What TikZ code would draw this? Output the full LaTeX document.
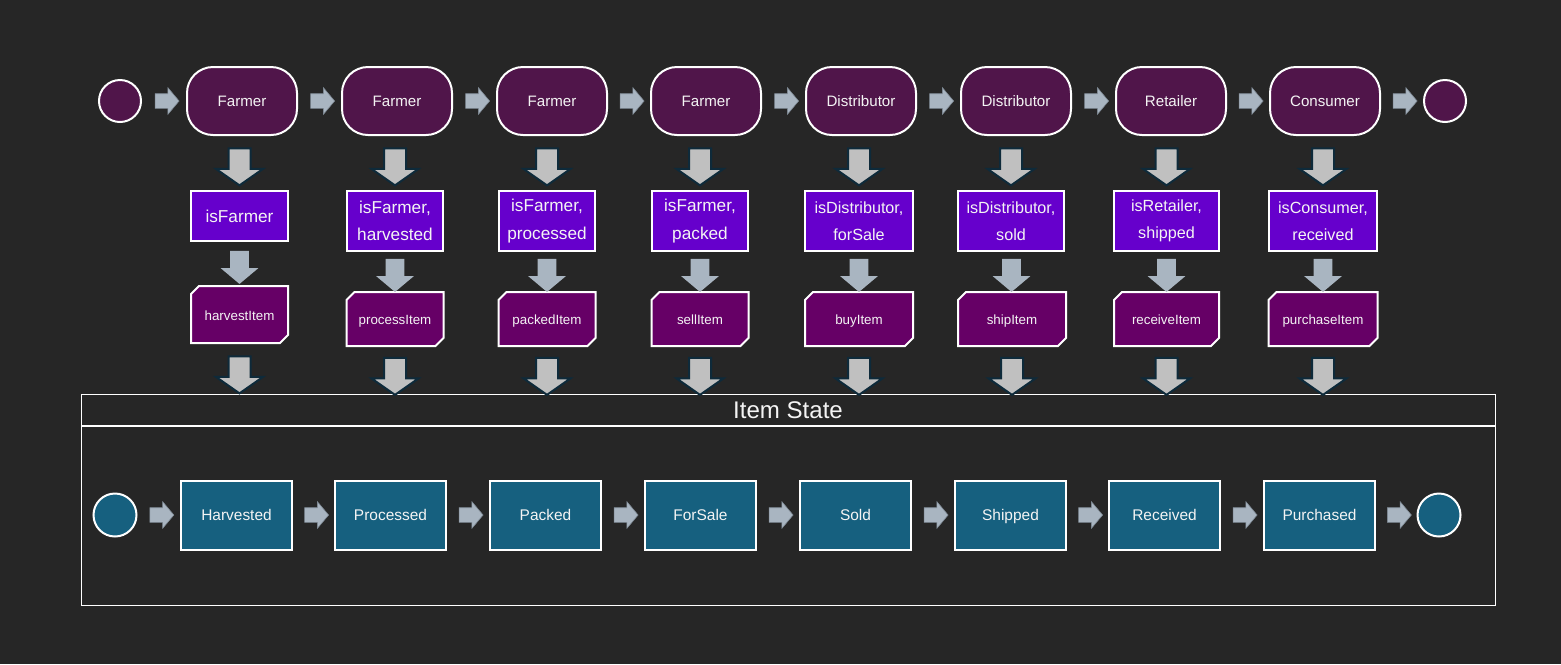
\documentclass[tikz,border=0pt]{standalone}
\usepackage{fontspec}
\setmainfont{Liberation Sans}
\usetikzlibrary{shapes.arrows,shapes.misc,calc}
\definecolor{bg}{HTML}{262626}
\definecolor{topfill}{HTML}{50154A}
\definecolor{condfill}{HTML}{6600CC}
\definecolor{fnfill}{HTML}{660066}
\definecolor{statefill}{HTML}{16607F}
\definecolor{sarrow}{HTML}{A9B5C1}
\definecolor{sarrowedge}{HTML}{7F8A95}
\definecolor{barrow}{HTML}{C0C0C0}
\definecolor{barrowedge}{HTML}{0E2A3A}
\definecolor{txt}{HTML}{F4F4F4}
\def\px{0.02cm}
\tikzset{
  actor/.style={draw=white,line width={2*\px},fill=topfill,rounded corners={26*\px},minimum width={110*\px},minimum height={68*\px},text=txt,font=\fontsize{8.6}{9}\selectfont,inner sep=0,text height=1.6ex,text depth=0.4ex},
  topcirc/.style={circle,draw=white,line width={2*\px},fill=topfill,minimum size={42*\px},inner sep=0},
  cond/.style={draw=white,line width={2*\px},fill=condfill,text=txt,font=\fontsize{9.8}{15.5}\selectfont,align=center,inner sep=0,anchor=north},
  fnbox/.style={chamfered rectangle,chamfered rectangle corners={north west,south east},chamfered rectangle xsep={4*\px},chamfered rectangle ysep={4*\px},draw=white,line width={2*\px},fill=fnfill,text=txt,font=\fontsize{7.6}{8}\selectfont,inner sep=0,anchor=north,text height=1.6ex,text depth=0.4ex},
  state/.style={draw=white,line width={2*\px},fill=statefill,minimum width={111*\px},minimum height={69*\px},text=txt,font=\fontsize{8.8}{10}\selectfont,inner sep=0,text height=1.6ex,text depth=0.4ex},
  botcirc/.style={circle,draw=white,line width={2*\px},fill=statefill,minimum size={43*\px},inner sep=0},
  rarr/.style={single arrow,fill=sarrow,draw=sarrowedge,line width={0.6*\px},minimum height={24*\px},inner xsep=0,inner ysep={7*\px},single arrow head extend={6*\px},single arrow tip angle=100},
  darr/.style={single arrow,fill=sarrow,draw=none,rotate=-90,minimum height={33*\px},inner xsep=0,inner ysep={9*\px},single arrow head extend={9.5*\px},single arrow tip angle=100},
  bigarr/.style={single arrow,fill=barrow,draw=barrowedge,line width={2*\px},rotate=-90,minimum height={37*\px},inner xsep=0,inner ysep={10*\px},single arrow head extend={12.5*\px},single arrow tip angle=110},
}
\begin{document}
\begin{tikzpicture}[x=0.02cm,y=-0.02cm]
\fill[bg] (0,0) rectangle (1561,664);
\useasboundingbox (0,0) rectangle (1561,664);
% top row
\node[topcirc] (s0) at (120,101) {};
\node[actor] (a1) at (242,101) {Farmer};
\node[actor] (a2) at (397,101) {Farmer};
\node[actor] (a3) at (552,101) {Farmer};
\node[actor] (a4) at (706,101) {Farmer};
\node[actor] (a5) at (861,101) {Distributor};
\node[actor] (a6) at (1016,101) {Distributor};
\node[actor] (a7) at (1171,101) {Retailer};
\node[actor] (a8) at (1325,101) {Consumer};
\node[topcirc] (e0) at (1445,101) {};
\foreach \p/\q in {s0/a1,a1/a2,a2/a3,a3/a4,a4/a5,a5/a6,a6/a7,a7/a8,a8/e0}
  \node[rarr] at ($(\p.east)!0.5!(\q.west)$) {};
% conditions
\node[cond,minimum width={97*\px},minimum height={50*\px}] (c1) at (239.5,190) {isFarmer};
\node[cond,minimum width={96*\px},minimum height={60*\px}] (c2) at (395,190) {isFarmer,\\harvested};
\node[cond,minimum width={96*\px},minimum height={60*\px}] (c3) at (547,190) {isFarmer,\\processed};
\node[cond,minimum width={96*\px},minimum height={60*\px}] (c4) at (700,190) {isFarmer,\\packed};
\node[cond,minimum width={108*\px},minimum height={60*\px},font=\fontsize{9.2}{15.5}\selectfont] (c5) at (859,190) {isDistributor,\\forSale};
\node[cond,minimum width={106*\px},minimum height={60*\px},font=\fontsize{9.2}{15.5}\selectfont] (c6) at (1011,190) {isDistributor,\\sold};
\node[cond,minimum width={105*\px},minimum height={60*\px},font=\fontsize{9.2}{15.5}\selectfont] (c7) at (1166.5,190) {isRetailer,\\shipped};
\node[cond,minimum width={108*\px},minimum height={60*\px},font=\fontsize{9.2}{15.5}\selectfont] (c8) at (1323,190) {isConsumer,\\received};
% functions
\node[fnbox,minimum width={97*\px},minimum height={57*\px}] (f1) at (239.5,285) {harvestItem};
\node[fnbox,minimum width={97*\px},minimum height={54*\px}] (f2) at (395,291) {processItem};
\node[fnbox,minimum width={97*\px},minimum height={54*\px}] (f3) at (547,291) {packedItem};
\node[fnbox,minimum width={97*\px},minimum height={54*\px}] (f4) at (700,291) {sellItem};
\node[fnbox,minimum width={108*\px},minimum height={54*\px}] (f5) at (859,291) {buyItem};
\node[fnbox,minimum width={108*\px},minimum height={54*\px}] (f6) at (1012,291) {shipItem};
\node[fnbox,minimum width={105*\px},minimum height={54*\px}] (f7) at (1166.5,291) {receiveItem};
\node[fnbox,minimum width={109*\px},minimum height={54*\px}] (f8) at (1323,291) {purchaseItem};
% container
\node[draw=white,line width={1.2*\px},minimum width={1414*\px},minimum height={211*\px},anchor=north west,inner sep=0] (box) at (81,394) {};
\coordinate (hl) at (81,426);
\coordinate (hr) at (1495,426);
\draw[white,line width={1.2*\px}] (hl) -- (hr);
\node[text=txt,font=\fontsize{13.7}{15}\selectfont] (title) at (788,410) {Item State};
% arrows down
\foreach \i in {1,...,8}{
  \node[bigarr] at ($(a\i.south -| c\i.north)!0.5!(c\i.north)$) {};
  \node[darr] at ($(c\i.south)!0.5!(f\i.north)$) {};
  \node[bigarr] (g\i) at ($(f\i.south)!0.5!(f\i.south |- box.north)+(0,2)$) {};
}
% bottom row
\node[botcirc] (s1) at (115,515) {};
\node[state] (b1) at (236.5,515) {Harvested};
\node[state] (b2) at (390.5,515) {Processed};
\node[state] (b3) at (545.5,515) {Packed};
\node[state] (b4) at (700.5,515) {ForSale};
\node[state] (b5) at (855.5,515) {Sold};
\node[state] (b6) at (1010.5,515) {Shipped};
\node[state] (b7) at (1164.5,515) {Received};
\node[state] (b8) at (1319.5,515) {Purchased};
\node[botcirc] (e1) at (1439,515) {};
\foreach \p/\q in {s1/b1,b1/b2,b2/b3,b3/b4,b4/b5,b5/b6,b6/b7,b7/b8,b8/e1}
  \node[rarr] at ($(\p.east)!0.5!(\q.west)$) {};
\end{tikzpicture}
\end{document}
